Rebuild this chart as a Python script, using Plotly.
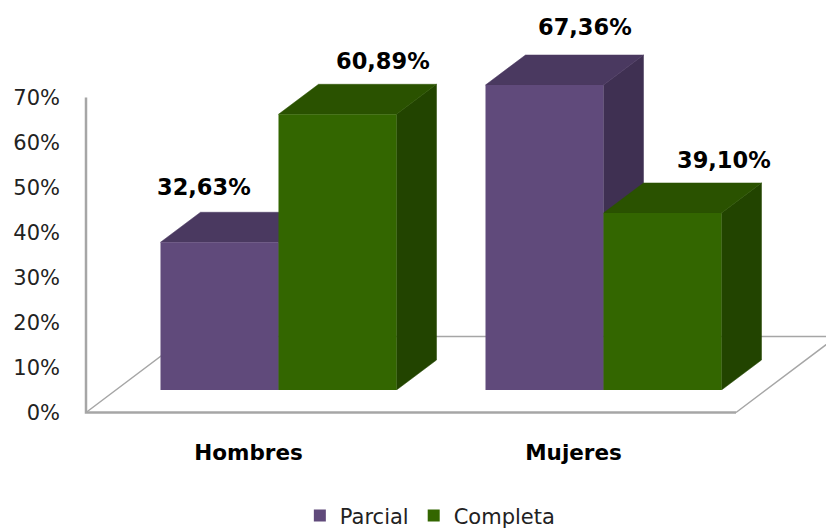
import plotly.graph_objects as go

categories = ["Hombres", "Mujeres"]
parcial = [32.63, 67.36]
completa = [60.89, 39.10]
y_ticks = [0, 10, 20, 30, 40, 50, 60, 70]

W, H = 826, 529
FONT = "DejaVu Sans"
GRAY = "#A6A6A6"
INK = "#000000"
# pixel geometry of the pseudo-3D projection
AX_L, AX_R, AX_B = 86, 736, 412.5
BAR_SHIFT_X, BAR_B = 30, 390
PX_UNIT = (AX_R - AX_L) / 2
PX_PCT_AXIS, PX_PCT_BAR = 4.5, 4.528
BAR_W = 118 / PX_UNIT
DX, DY = 40 / PX_UNIT, 30 / PX_PCT_BAR
FLOOR_DX, FLOOR_DY = 101 / PX_UNIT, 76 / PX_PCT_AXIS

fig = go.Figure()

# floor outline (front edge, both diagonals, back edge) and the value wall line
fig.add_trace(go.Scatter(
    x=[-0.5, -0.5 + FLOOR_DX, 1.5 + FLOOR_DX, 1.5],
    y=[0, FLOOR_DY, FLOOR_DY, 0],
    mode="lines", line=dict(color=GRAY, width=1.5),
    showlegend=False, hoverinfo="skip", xaxis="x", yaxis="y"))
fig.add_trace(go.Scatter(
    x=[-0.5, -0.5, 1.5], y=[70, 0, 0],
    mode="lines", line=dict(color=GRAY, width=2.5),
    showlegend=False, hoverinfo="skip", xaxis="x", yaxis="y"))

def add_faces(values, left_offset, top_color, side_color):
    for i, v in enumerate(values):
        xl = i + left_offset
        xr = xl + BAR_W
        fig.add_trace(go.Scatter(
            x=[xr, xr + DX, xr + DX, xr, xr], y=[0, DY, v + DY, v, 0],
            mode="lines", fill="toself", fillcolor=side_color,
            line=dict(color=side_color, width=0.5), cliponaxis=False,
            showlegend=False, hoverinfo="skip", xaxis="x2", yaxis="y2"))
        fig.add_trace(go.Scatter(
            x=[xl, xl + DX, xr + DX, xr, xl], y=[v, v + DY, v + DY, v, v],
            mode="lines", fill="toself", fillcolor=top_color,
            line=dict(color=top_color, width=0.5), cliponaxis=False,
            showlegend=False, hoverinfo="skip", xaxis="x2", yaxis="y2"))

add_faces(parcial, -BAR_W, "#4A3960", "#3F3052")
add_faces(completa, 0, "#2A5200", "#224400")

idx = list(range(len(categories)))
fig.add_trace(go.Bar(x=idx, y=parcial, name="Parcial",
                     marker=dict(color="#604A7B", line=dict(width=0)),
                     xaxis="x3", yaxis="y3", hoverinfo="skip"))
fig.add_trace(go.Bar(x=idx, y=completa, name="Completa",
                     marker=dict(color="#336600", line=dict(width=0)),
                     xaxis="x3", yaxis="y3", hoverinfo="skip"))

def fx(a, b):
    return [a / W, b / W]

def fy(top, bottom):
    return [1 - bottom / H, 1 - top / H]

annotations = []
label_shifts = [(-16, 55), (40, 58), (45, 53), (61, 53)]
label_points = [(0 - BAR_W / 2, parcial[0]), (1 - BAR_W / 2, parcial[1]),
                (0 + BAR_W / 2, completa[0]), (1 + BAR_W / 2, completa[1])]
for (x, v), (sx, sy) in zip(label_points, label_shifts):
    annotations.append(dict(
        x=x, y=v, xref="x3", yref="y3", xshift=sx, yshift=sy,
        text="<b>%s%%</b>" % f"{v:.2f}".replace(".", ","), showarrow=False,
        font=dict(family=FONT, size=22.5, color=INK), xanchor="center", yanchor="middle"))

hidden = dict(visible=False, fixedrange=True)
fig.update_layout(
    width=W, height=H, margin=dict(l=0, r=0, t=0, b=0, pad=0, autoexpand=False),
    paper_bgcolor="white", plot_bgcolor="rgba(0,0,0,0)",
    barmode="group", bargap=1 - 2 * BAR_W, bargroupgap=0,
    font=dict(family=FONT, size=21, color=INK),
    xaxis=dict(domain=[0, 1], range=[-0.5 - AX_L / PX_UNIT, -0.5 + (W - AX_L) / PX_UNIT],
               tickmode="array", tickvals=idx,
               ticktext=["<b>%s</b>" % c for c in categories], showgrid=False, zeroline=False,
               showline=False, ticks="", ticklabelstandoff=25,
               tickfont=dict(family=FONT, size=21.5, color=INK),
               anchor="free", position=1 - AX_B / H),
    yaxis=dict(domain=[0, 1], range=[-(H - AX_B) / PX_PCT_AXIS, AX_B / PX_PCT_AXIS],
               tickmode="array", tickvals=y_ticks,
               ticktext=["%d%%" % t for t in y_ticks], showgrid=False, zeroline=False,
               showline=False, ticks="", ticklabelstandoff=26,
               tickfont=dict(family=FONT, size=21, color="#222222"),
               anchor="free", position=AX_L / W),
    xaxis2=dict(domain=fx(AX_L + BAR_SHIFT_X, AX_R + BAR_SHIFT_X), range=[-0.5, 1.5], anchor="y2", **hidden),
    yaxis2=dict(domain=fy(0, BAR_B), range=[0, BAR_B / PX_PCT_BAR], anchor="x2", **hidden),
    xaxis3=dict(domain=fx(AX_L + BAR_SHIFT_X, AX_R + BAR_SHIFT_X), range=[-0.5, 1.5], anchor="y3", **hidden),
    yaxis3=dict(domain=fy(0, BAR_B), range=[0, BAR_B / PX_PCT_BAR], anchor="x3", **hidden),
    legend=dict(orientation="h", x=0.521, xanchor="center", y=-0.014, yanchor="bottom",
                font=dict(family=FONT, size=21, color="#222222"), bgcolor="rgba(0,0,0,0)"),
    annotations=annotations,
)
fig.write_html("out.html", config=dict(displayModeBar=False),
               post_script="document.body.style.margin='0';")
